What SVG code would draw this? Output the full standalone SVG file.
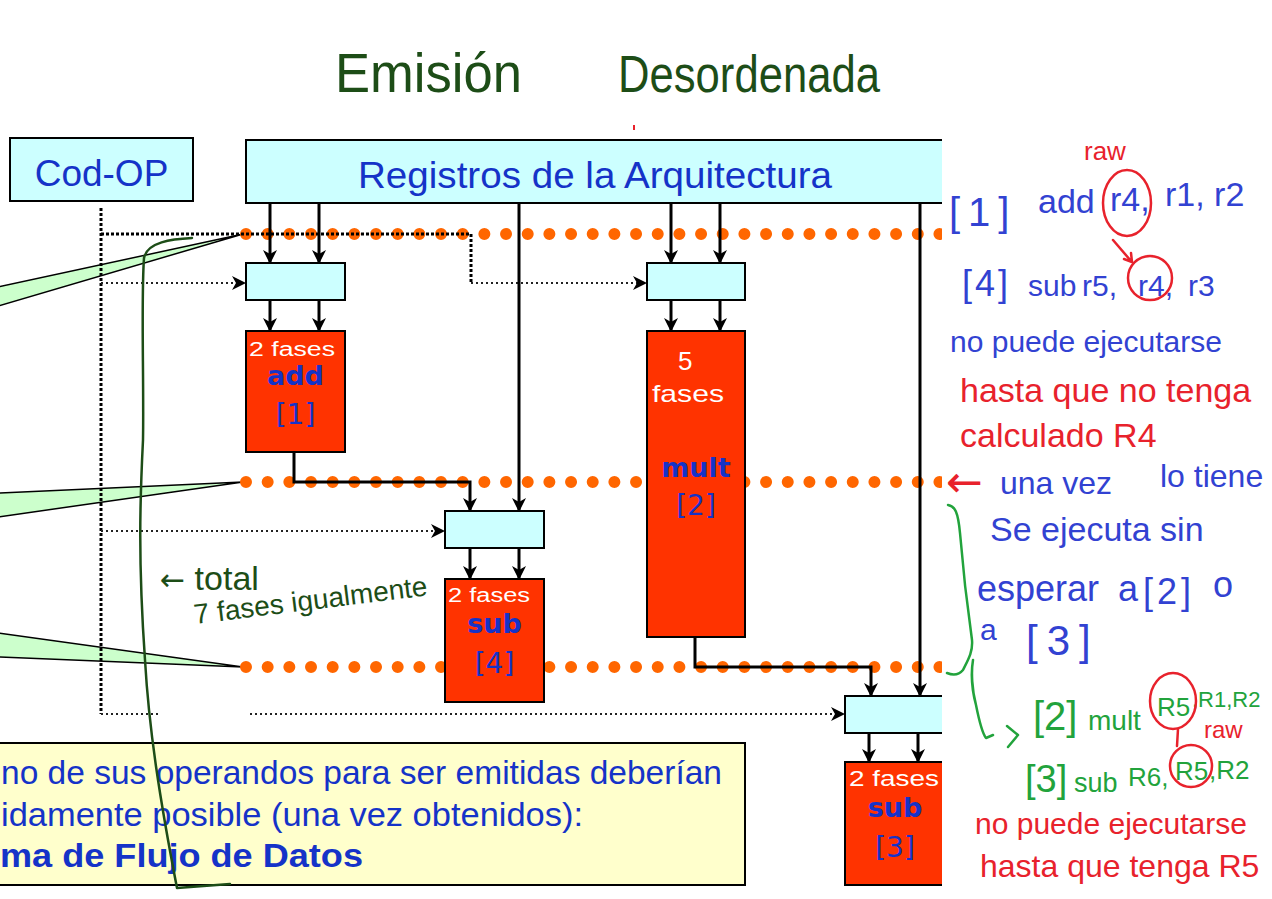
<svg xmlns="http://www.w3.org/2000/svg" width="1272" height="899" viewBox="0 0 1272 899">
<style>
.box{fill:#CCFFFF;stroke:#000;stroke-width:2}
.fu{fill:#FF3300;stroke:#000;stroke-width:2}
.note{fill:#FFFFCC;stroke:#000;stroke-width:2}
.hdr{font-family:"Liberation Sans",Arial,sans-serif;font-size:37px;fill:#1533C8}
.nm{font-family:"DejaVu Sans",Verdana,sans-serif;font-size:27px;font-weight:bold;fill:#1533C8;text-anchor:middle}
.num{font-family:"DejaVu Sans",Verdana,sans-serif;font-size:28px;fill:#1533C8;text-anchor:middle}
.nt{font-family:"Liberation Sans",Arial,sans-serif;font-size:33px;fill:#1533C8}
.wire{fill:none;stroke:#000;stroke-width:3}
.dotsO{fill:none;stroke:#FF6600;stroke-width:12;stroke-linecap:round;stroke-dasharray:0 21.67}
.ctlV{fill:none;stroke:#000;stroke-width:3;stroke-dasharray:3 2}
.ctl{fill:none;stroke:#222;stroke-width:2;stroke-dasharray:2 3}
.wedge{fill:#CCFFCC;stroke:#000;stroke-width:1.5}
.hw{font-family:"Liberation Sans",Arial,sans-serif}
.arr{font-family:"DejaVu Sans",sans-serif}
.hwB{fill:#3242D2}
.hwR{fill:#E8222C}
.hwG{fill:#22A33C}
.hwD{fill:#1D4D17}
.hwW{fill:#FFFFFF}
.pen{fill:none;stroke-width:2.5;stroke-linecap:round;stroke-linejoin:round}
.ring{fill:none;stroke:#E8222C;stroke-width:2.5}
</style>
<defs>
<marker id="ah" viewBox="0 0 14 14" refX="13" refY="7" markerWidth="14" markerHeight="14" markerUnits="userSpaceOnUse" orient="auto">
<path d="M0,0 L14,7 L0,14 L4,7 z" fill="#000"/>
</marker>
<clipPath id="slideClip"><rect x="0" y="0" width="942" height="899"/></clipPath>
</defs>
<rect x="0" y="0" width="1272" height="899" fill="#FFFFFF"/>

<g id="slide" clip-path="url(#slideClip)">
  <g id="wedges">
    <path class="wedge" d="M-2,287 L243,234 L-2,306 Z"/>
    <path class="wedge" d="M-2,493 L243,482 L-2,517 Z"/>
    <path class="wedge" d="M-2,633 L243,667 L-2,657 Z"/>
  </g>
  <g id="stage-lines">
    <path class="dotsO" d="M246,234 H946"/>
    <path class="dotsO" d="M246,482 H946"/>
    <path class="dotsO" d="M246,667 H946"/>
  </g>
  <g id="connectors">
    <path class="ctlV" d="M101,208 V714"/>
    <path class="ctlV" d="M101,234 H471 V283"/>
    <path class="ctl" d="M471,283 H646" marker-end="url(#ah)"/>
    <path class="ctl" d="M101,283 H245" marker-end="url(#ah)"/>
    <path class="ctl" d="M101,531 H444" marker-end="url(#ah)"/>
    <path class="ctl" d="M101,714 H158"/>
    <path class="ctl" d="M250,714 H844" marker-end="url(#ah)"/>
    <path class="wire" d="M270,203 V263" marker-end="url(#ah)"/>
    <path class="wire" d="M319,203 V263" marker-end="url(#ah)"/>
    <path class="wire" d="M270,300 V331" marker-end="url(#ah)"/>
    <path class="wire" d="M319,300 V331" marker-end="url(#ah)"/>
    <path class="wire" d="M671,203 V263" marker-end="url(#ah)"/>
    <path class="wire" d="M720,203 V263" marker-end="url(#ah)"/>
    <path class="wire" d="M671,300 V331" marker-end="url(#ah)"/>
    <path class="wire" d="M720,300 V331" marker-end="url(#ah)"/>
    <path class="wire" d="M519,203 V511" marker-end="url(#ah)"/>
    <path class="wire" d="M294,452 V482 H470 V511" marker-end="url(#ah)"/>
    <path class="wire" d="M470,548 V579" marker-end="url(#ah)"/>
    <path class="wire" d="M519,548 V579" marker-end="url(#ah)"/>
    <path class="wire" d="M695,637 V667 H871 V696" marker-end="url(#ah)"/>
    <path class="wire" d="M920,203 V696" marker-end="url(#ah)"/>
    <path class="wire" d="M869,733 V762" marker-end="url(#ah)"/>
    <path class="wire" d="M918,733 V762" marker-end="url(#ah)"/>
  </g>
  <g id="cod-op">
    <rect class="box" x="10" y="138" width="183" height="63"/>
    <text class="hdr" x="101.5" y="186" text-anchor="middle">Cod-OP</text>
  </g>
  <g id="registros">
    <rect class="box" x="246" y="140" width="720" height="63"/>
    <text class="hdr" x="595" y="188" text-anchor="middle" textLength="474" lengthAdjust="spacingAndGlyphs">Registros de la Arquitectura</text>
  </g>
  <g id="in-add"><rect class="box" x="246" y="263" width="99" height="37"/></g>
  <g id="add1">
    <rect class="fu" x="246" y="331" width="99" height="121"/>
    <text class="nm" x="295.5" y="385">add</text>
    <text class="num" x="295.5" y="424">[1]</text>
  </g>
  <g id="in-mult"><rect class="box" x="647" y="263" width="98" height="37"/></g>
  <g id="mult2">
    <rect class="fu" x="647" y="331" width="98" height="306"/>
    <text class="nm" x="696" y="477">mult</text>
    <text class="num" x="696" y="515">[2]</text>
  </g>
  <g id="in-sub4"><rect class="box" x="445" y="511" width="99" height="37"/></g>
  <g id="sub4">
    <rect class="fu" x="445" y="579" width="99" height="123"/>
    <text class="nm" x="494.5" y="633">sub</text>
    <text class="num" x="494.5" y="673">[4]</text>
  </g>
  <g id="in-sub3"><rect class="box" x="845" y="696" width="110" height="37"/></g>
  <g id="sub3">
    <rect class="fu" x="845" y="762" width="110" height="123"/>
    <text class="nm" x="895" y="817">sub</text>
    <text class="num" x="895" y="857">[3]</text>
  </g>
  <g id="nota">
    <rect class="note" x="-5" y="743" width="750" height="142"/>
    <text class="nt" x="1" y="784" textLength="721" lengthAdjust="spacingAndGlyphs">no de sus operandos para ser emitidas deberían</text>
    <text class="nt" x="1" y="826" textLength="582" lengthAdjust="spacingAndGlyphs">idamente posible (una vez obtenidos):</text>
    <text class="nt" x="0" y="867" font-weight="bold" textLength="363" lengthAdjust="spacingAndGlyphs">ma de Flujo de Datos</text>
  </g>
</g>

<g id="annotations">
  <text class="hw hwD" x="335" y="92" font-size="56" textLength="187" lengthAdjust="spacingAndGlyphs">Emisión</text>
  <text class="hw hwD" x="618" y="92" font-size="52" textLength="262" lengthAdjust="spacingAndGlyphs">Desordenada</text>
  <rect x="633" y="125" width="2" height="5" fill="#E8222C"/>

  <text class="hw hwW" x="249" y="356" font-size="20" textLength="86" lengthAdjust="spacingAndGlyphs">2 fases</text>
  <text class="hw hwW" x="678" y="370" font-size="26">5</text>
  <text class="hw hwW" x="652" y="402" font-size="24" textLength="72" lengthAdjust="spacingAndGlyphs">fases</text>
  <text class="hw hwW" x="448" y="602" font-size="20" textLength="82" lengthAdjust="spacingAndGlyphs">2 fases</text>
  <text class="hw hwW" x="849" y="786" font-size="22" textLength="90" lengthAdjust="spacingAndGlyphs">2 fases</text>

  <path class="pen" stroke="#1D4D17" d="M192,238 C172,239 147,242 144,258 C141,300 144,380 143,440 C140,500 138,560 145,660 C149,730 160,800 177,888 L230,884"/>
  <text class="hw hwD" x="160" y="590" font-size="34"><tspan class="arr" font-size="30">←</tspan> total</text>
  <text class="hw hwD" x="195" y="624" font-size="28" transform="rotate(-7 195 624)">7 fases igualmente</text>

  <text class="hw hwR" x="1084" y="160" font-size="26">raw</text>
  <text class="hw hwB" y="213" font-size="34"><tspan x="949" y="226" font-size="40" letter-spacing="8">[1]</tspan><tspan x="1038" y="213">add</tspan><tspan x="1110" y="211">r4,</tspan><tspan x="1165" y="206">r1, r2</tspan></text>
  <ellipse class="ring" cx="1127" cy="203" rx="24" ry="33"/>
  <path class="pen" stroke="#E8222C" d="M1113,240 L1131,261 M1124,259 L1132,262 L1131,253"/>
  <text class="hw hwB" y="290" font-size="30"><tspan x="962" y="296" font-size="36" letter-spacing="3">[4]</tspan><tspan x="1028">sub</tspan><tspan x="1082">r5,</tspan><tspan x="1138">r4,</tspan><tspan x="1188">r3</tspan></text>
  <circle class="ring" cx="1150" cy="278" r="22"/>
  <text class="hw hwB" x="950" y="352" font-size="30">no puede ejecutarse</text>
  <text class="hw hwR" x="960" y="402" font-size="34">hasta que no tenga</text>
  <text class="hw hwR" x="960" y="447" font-size="34">calculado R4</text>
  <text class="arr hwR" x="946" y="497" font-size="44">←</text>
  <text class="hw hwB" x="1000" y="494" font-size="32">una vez</text>
  <text class="hw hwB" x="1160" y="487" font-size="32">lo tiene</text>

  <path class="pen" stroke="#22A33C" d="M948,505 C955,506 958,512 960,533 C963,570 967,605 972,640 C973,652 968,660 963,670 C958,676 952,675 947,673"/>
  <path class="pen" stroke="#22A33C" d="M973,660 C971,672 972,690 976,705 C979,720 982,733 986,738 L993,735 M1007,726 L1018,735 L1008,747"/>
  <text class="hw hwB" x="990" y="541" font-size="34">Se ejecuta sin</text>
  <text class="hw hwB" y="601" font-size="36"><tspan x="977">esperar</tspan><tspan x="1118">a</tspan><tspan x="1143" y="604" letter-spacing="4">[2]</tspan><tspan x="1213" y="597">o</tspan></text>
  <text class="hw hwB" y="640" font-size="30"><tspan x="980">a</tspan><tspan x="1026" y="655" font-size="42" letter-spacing="9">[3]</tspan></text>

  <text class="hw hwG" y="722" font-size="28"><tspan x="1033" y="730" font-size="40">[2]</tspan><tspan x="1088">mult</tspan><tspan x="1157" y="716" font-size="26">R5</tspan><tspan x="1192" y="707" font-size="22">,R1,R2</tspan></text>
  <ellipse class="ring" cx="1173" cy="701" rx="23" ry="28"/>
  <path class="pen" stroke="#E8222C" d="M1178,729 L1177,746"/>
  <text class="hw hwR" x="1204" y="738" font-size="24">raw</text>
  <text class="hw hwG" y="788" font-size="27"><tspan x="1025" y="792" font-size="38">[3]</tspan><tspan x="1074">sub</tspan><tspan x="1128" y="786" font-size="26">R6,</tspan><tspan x="1175" y="780" font-size="26">R5</tspan><tspan x="1209" y="779" font-size="26">,R2</tspan></text>
  <circle class="ring" cx="1191" cy="766" r="21"/>
  <text class="hw hwR" x="975" y="834" font-size="30">no puede ejecutarse</text>
  <text class="hw hwR" x="980" y="877" font-size="32">hasta que tenga R5</text>
</g>
</svg>
